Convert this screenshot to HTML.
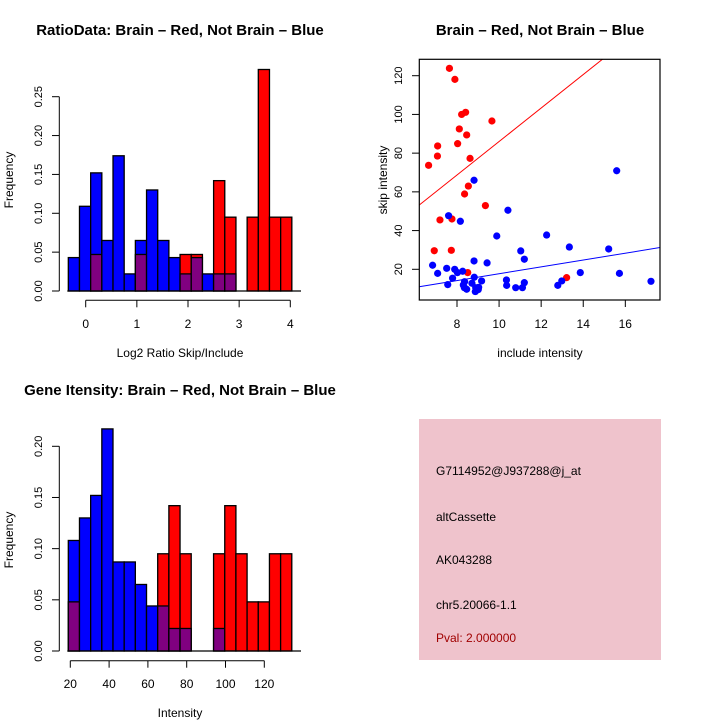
<!DOCTYPE html>
<html><head><meta charset="utf-8"><style>
body{margin:0;background:#fff;width:720px;height:720px;overflow:hidden}
svg{display:block;font-family:"Liberation Sans",sans-serif}
</style></head><body>
<svg id="c" width="720" height="720" viewBox="0 0 720 720">
<text x="180" y="35" text-anchor="middle" font-size="15" font-weight="bold">RatioData: Brain – Red, Not Brain – Blue</text>
<text x="540" y="35" text-anchor="middle" font-size="15" font-weight="bold">Brain – Red, Not Brain – Blue</text>
<text x="180" y="395" text-anchor="middle" font-size="15" font-weight="bold">Gene Itensity: Brain – Red, Not Brain – Blue</text>
<text x="180" y="357" text-anchor="middle" font-size="12">Log2 Ratio Skip/Include</text>
<text x="180" y="717" text-anchor="middle" font-size="12">Intensity</text>
<text x="13" y="180" text-anchor="middle" font-size="12" transform="rotate(-90 13 180)">Frequency</text>
<text x="13" y="540" text-anchor="middle" font-size="12" transform="rotate(-90 13 540)">Frequency</text>
<text x="540" y="357" text-anchor="middle" font-size="12">include intensity</text>
<text x="387" y="180" text-anchor="middle" font-size="12" transform="rotate(-90 387 180)">skip intensity</text>
<rect x="419" y="419" width="242" height="241" fill="#efc3cc"/>
<g font-size="12">
<text x="436" y="475">G7114952@J937288@j_at</text>
<text x="436" y="521">altCassette</text>
<text x="436" y="564">AK043288</text>
<text x="436" y="609">chr5.20066-1.1</text>
<text x="436" y="642" fill="#a00000">Pval: 2.000000</text>
</g>
</svg>
<script>
// Ratio histogram data
const ratioBinStart = -0.34, ratioBinWidth = 0.2185;
const ratioBlue = [.043,.109,.152,.065,.174,.022,.065,.130,.065,.043,.022,.043,.022,.022,.022,0,0,0,0,0];
const ratioRed  = [0,0,.047,0,0,0,.047,0,0,0,.047,.047,0,.142,.095,0,.095,.285,.095,.095];
const ratioXTicks = [0,1,2,3,4];
const ratioYTicks = ["0.00","0.05","0.10","0.15","0.20","0.25"];
// Intensity histogram data
const intBinStart = 18.97, intBinWidth = 5.76;
const intBlue = [.108,.130,.152,.217,.087,.087,.065,.044,.044,.022,.022,0,0,.022,0,0,0,0,0,0];
const intRed  = [.048,0,0,0,0,0,0,0,.095,.142,.095,0,0,.095,.142,.095,.048,.048,.095,.095];
const intXTicks = [20,40,60,80,100,120];
const intYTicks = ["0.00","0.05","0.10","0.15","0.20"];
// Scatter data
const redX = [7.64,7.90,8.22,8.41,9.66,8.11,8.46,8.03,7.08,7.07,6.65,8.62,8.54,8.36,9.35,7.19,7.76,6.92,7.73,8.51,13.21];
const redY = [123.8,118.1,100.0,101.1,96.6,92.5,89.4,84.9,83.7,78.5,73.7,77.3,63.0,58.9,52.9,45.5,46.0,29.6,29.8,18.3,15.7];
const blueX = [15.59,8.81,10.42,7.60,8.16,9.89,12.26,13.34,15.21,11.03,11.20,8.81,9.43,6.84,7.08,7.51,7.89,8.02,8.27,7.79,8.82,7.56,8.36,8.30,8.35,8.46,8.71,8.89,9.01,8.87,9.03,9.17,10.35,10.36,10.79,11.11,11.20,12.79,12.98,13.86,15.72,17.22];
const blueY = [70.9,66.0,50.5,47.7,44.8,37.2,37.7,31.5,30.5,29.5,25.2,24.3,23.3,22.1,17.9,20.5,20.0,18.3,19.0,15.4,15.9,12.1,13.6,11.9,10.5,9.7,12.8,10.5,9.5,8.5,10.7,14.0,14.5,11.7,10.5,10.5,13.1,11.7,14.0,18.3,17.9,13.8];
const scXTicks = [8,10,12,14,16];
const scYTicks = [20,40,60,80,100,120];
const redLine = [-0.5, 8.65];
const blueLine = [0.0, 1.77];

const svg = document.getElementById('c');
const NS = 'http://www.w3.org/2000/svg';
function mk(tag, attrs, parent){const e=document.createElementNS(NS,tag);for(const k in attrs)e.setAttribute(k,attrs[k]);(parent||svg).appendChild(e);return e;}

function hist(name, x0, bw, blue, red, xt, yt, xs, ys, y0px, axisY, xLabelY){
  const g = mk('g',{});
  
  
  for(let i=0;i<blue.length;i++){
    const xa=xs(x0+i*bw), xb=xs(x0+(i+1)*bw);
    const b=blue[i], r=red[i];
    const draw=(v,col,nm)=>{ if(v<=0) return;
      const el=mk('rect',{x:xa,y:ys(v),width:xb-xa,height:ys(0)-ys(v),fill:col,stroke:'#000','stroke-width':1.3},g);
      
      
    };
    if(b>=r){draw(b,'#0000ff','bar-blue-'+i);draw(r,'#800080','bar-overlap-'+i);}
    else{draw(r,'#ff0000','bar-red-'+i);draw(b,'#800080','bar-overlap-'+i);}
  }
  mk('line',{x1:xs(x0)-1,x2:301,y1:ys(0),y2:ys(0),stroke:'#000','stroke-width':1.3},g);
  const yv=yt.map(Number);
  mk('line',{x1:59.3,x2:59.3,y1:ys(yv[0]),y2:ys(yv[yv.length-1]),stroke:'#000'},g);
  yt.forEach((t,i)=>{const y=ys(yv[i]);
    mk('line',{x1:52,x2:59.3,y1:y,y2:y,stroke:'#000'},g);
    const tx=mk('text',{x:42,y:y,'text-anchor':'middle','font-size':11,transform:`rotate(-90 42 ${y})`},g);tx.textContent=t;
    
    
  });
  mk('line',{x1:xs(xt[0]),x2:xs(xt[xt.length-1]),y1:axisY,y2:axisY,stroke:'#000'},g);
  xt.forEach(t=>{const x=xs(t);
    mk('line',{x1:x,x2:x,y1:axisY,y2:axisY+7,stroke:'#000'},g);
    const tx=mk('text',{x:x,y:xLabelY,'text-anchor':'middle','font-size':12},g);tx.textContent=t;
    
    
  });
}
hist('ratio-histogram', ratioBinStart, ratioBinWidth, ratioBlue, ratioRed, ratioXTicks, ratioYTicks,
  v=>85.7+v*51.15, v=>291-v*777.2, 291, 300.3, 328);
hist('intensity-histogram', intBinStart, intBinWidth, intBlue, intRed, intXTicks, intYTicks,
  v=>70.3+(v-20)*1.94, v=>651-v*1023.5, 651, 660.7, 688);

const sx=v=>457+(v-8)*21.04, sy=v=>269.3-(v-20)*1.936;
const sg=mk('g',{});


const cp=mk('clipPath',{id:'clp'},sg);mk('rect',{x:419.3,y:59.3,width:240.7,height:240.7},cp);
const lg=mk('g',{'clip-path':'url(#clp)'},sg);
[[redLine,'#ff0000','red-fit-line'],[blueLine,'#0000ff','blue-fit-line']].forEach(([c,col,nm])=>{
  const el=mk('line',{x1:sx(6.2),y1:sy(c[0]+c[1]*6.2),x2:sx(17.7),y2:sy(c[0]+c[1]*17.7),stroke:col,'stroke-width':1},lg);
  
  
});
redX.forEach((x,i)=>{const p=mk('circle',{cx:sx(x),cy:sy(redY[i]),r:3.6,fill:'#ff0000'},sg);
  
  });
blueX.forEach((x,i)=>{const p=mk('circle',{cx:sx(x),cy:sy(blueY[i]),r:3.6,fill:'#0000ff'},sg);
  
  });
mk('rect',{x:419.3,y:59.3,width:240.7,height:240.7,fill:'none',stroke:'#000','stroke-width':1.2},sg);
scXTicks.forEach(t=>{const x=sx(t);mk('line',{x1:x,x2:x,y1:300,y2:307,stroke:'#000'},sg);
  const tx=mk('text',{x:x,y:328,'text-anchor':'middle','font-size':12},sg);tx.textContent=t;
  
  });
scYTicks.forEach(t=>{const y=sy(t);mk('line',{x1:412,x2:419.3,y1:y,y2:y,stroke:'#000'},sg);
  const tx=mk('text',{x:402,y:y,'text-anchor':'middle','font-size':11,transform:`rotate(-90 402 ${y})`},sg);tx.textContent=t;
  
  });
</script>
</body></html>
